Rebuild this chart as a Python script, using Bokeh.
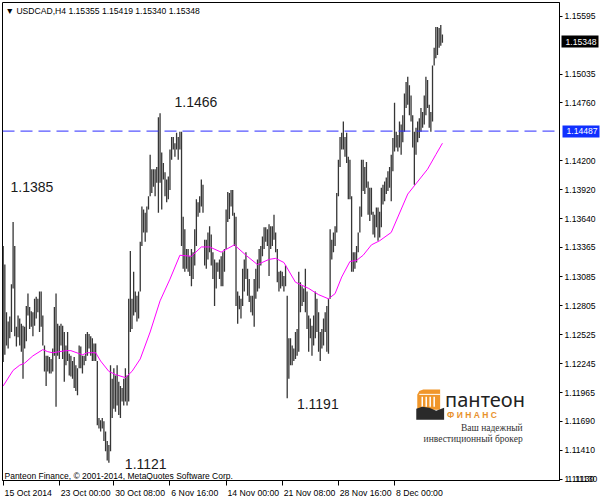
from bokeh.plotting import figure
from bokeh.models import (FixedTicker, PrintfTickFormatter, Label, Span, Range1d,
                          ColumnDataSource, LinearAxis, AllLabels)
from bokeh.embed import file_html
from bokeh.resources import INLINE

# ---------------- data ----------------
symbol = "USDCAD,H4"
last_ohlc = [1.15355, 1.15419, 1.15340, 1.15348]
level = 1.14487

highs = [
    1.1338, 1.1320, 1.1274, 1.1265, 1.1270, 1.1301, 1.1361, 1.1338, 1.1260, 1.1271,
    1.1268, 1.1263, 1.1261, 1.1260, 1.1280, 1.1292, 1.1279, 1.1275, 1.1274, 1.1287,
    1.1289, 1.1287, 1.1294, 1.1294, 1.1271, 1.1242, 1.1232, 1.1232, 1.1231, 1.1229,
    1.1239, 1.1279, 1.1292, 1.1263, 1.1261, 1.1263, 1.1261, 1.1255, 1.1242, 1.1255,
    1.1234, 1.1232, 1.1227, 1.1231, 1.1223, 1.1220, 1.1242, 1.1241, 1.1232, 1.1232,
    1.1253, 1.1255, 1.1253, 1.1251, 1.1249, 1.1244,
    1.1244, 1.1227, 1.1172, 1.1170, 1.1172, 1.1169, 1.1159, 1.1150, 1.1146, 1.1223,
    1.1210, 1.1220, 1.1213, 1.1223, 1.1207, 1.1203, 1.1201, 1.1210, 1.1220, 1.1213,
    1.1287, 1.1333, 1.1287, 1.1313, 1.1294, 1.1290, 1.1294, 1.1342, 1.1376, 1.1373,
    1.1370, 1.1376, 1.1386, 1.1426, 1.1412, 1.1412, 1.1412, 1.1414, 1.1462, 1.1466,
    1.1428, 1.1418, 1.1409, 1.1402, 1.1405, 1.1431, 1.1443, 1.1443, 1.1437, 1.1447,
    1.1443, 1.1448,
    1.1448, 1.1366, 1.1354, 1.1335, 1.1335, 1.1328, 1.1335, 1.1332, 1.1354, 1.1383,
    1.1380, 1.1386, 1.1402, 1.1397, 1.1344, 1.1344, 1.1351, 1.1357, 1.1349, 1.1332,
    1.1325, 1.1322, 1.1322, 1.1325, 1.1328, 1.1332, 1.1335, 1.1373, 1.1390, 1.1389,
    1.1392, 1.1392, 1.1370, 1.1366, 1.1294, 1.1290, 1.1287, 1.1316, 1.1325, 1.1332,
    1.1316, 1.1306, 1.1290, 1.1290, 1.1306, 1.1316, 1.1325, 1.1335, 1.1338, 1.1347,
    1.1356, 1.1356, 1.1354, 1.1359,
    1.1357, 1.1357, 1.1368, 1.1351, 1.1335, 1.1313, 1.1314, 1.1313, 1.1309, 1.1319,
    1.1290, 1.1249, 1.1249, 1.1242, 1.1239, 1.1255, 1.1258, 1.1313, 1.1303, 1.1299,
    1.1297, 1.1316, 1.1294, 1.1271, 1.1268, 1.1261, 1.1271, 1.1294, 1.1287, 1.1274,
    1.1255, 1.1258, 1.1268, 1.1274, 1.1280, 1.1287, 1.1354, 1.1344, 1.1351, 1.1357,
    1.1389, 1.1421, 1.1443, 1.1447, 1.1458, 1.1443, 1.1447, 1.1424, 1.1421, 1.1386,
    1.1332, 1.1332, 1.1338, 1.1351, 1.1376, 1.1421, 1.1421,
    1.1414, 1.1419, 1.1400, 1.1394, 1.1394, 1.1371, 1.1368, 1.1375, 1.1375, 1.1371,
    1.1394, 1.1397, 1.1400, 1.1404, 1.1410, 1.1414, 1.1426, 1.1442, 1.1476, 1.1448,
    1.1445, 1.1458, 1.1455, 1.1464, 1.1485, 1.1496, 1.1501, 1.1493, 1.1483, 1.1464,
    1.1448, 1.1452, 1.1458, 1.1461, 1.1471, 1.1467, 1.1483, 1.1501, 1.1498, 1.1474,
    1.1467, 1.1512, 1.1529, 1.1549, 1.1549, 1.1548, 1.1551, 1.15419,
]

lows = [
    1.1226, 1.1233, 1.1242, 1.1239, 1.1249, 1.1255, 1.1297, 1.1251, 1.1241, 1.1250,
    1.1242, 1.1236, 1.1210, 1.1239, 1.1246, 1.1271, 1.1258, 1.1260, 1.1251, 1.1261,
    1.1268, 1.1274, 1.1255, 1.1260, 1.1242, 1.1217, 1.1203, 1.1217, 1.1215, 1.1215,
    1.1217, 1.1232, 1.1183, 1.1232, 1.1229, 1.1242, 1.1229, 1.1207, 1.1223, 1.1227,
    1.1213, 1.1212, 1.1210, 1.1201, 1.1198, 1.1194, 1.1220, 1.1220, 1.1215, 1.1223,
    1.1227, 1.1232, 1.1239, 1.1232, 1.1227, 1.1227,
    1.1227, 1.1165, 1.1162, 1.1159, 1.1162, 1.1150, 1.1140, 1.1131, 1.1129, 1.1140,
    1.1172, 1.1181, 1.1178, 1.1184, 1.1175, 1.1172, 1.1188, 1.1184, 1.1188, 1.1184,
    1.1188, 1.1255, 1.1258, 1.1271, 1.1274, 1.1265, 1.1268, 1.1294, 1.1338, 1.1351,
    1.1342, 1.1351, 1.1373, 1.1386, 1.1389, 1.1395, 1.1386, 1.1399, 1.1370, 1.1399,
    1.1373, 1.1402, 1.1386, 1.1380, 1.1383, 1.1392, 1.1421, 1.1431, 1.1424, 1.1431,
    1.1421, 1.1431,
    1.1338, 1.1316, 1.1313, 1.1316, 1.1313, 1.1309, 1.1299, 1.1306, 1.1319, 1.1338,
    1.1366, 1.1370, 1.1376, 1.1370, 1.1319, 1.1316, 1.1325, 1.1332, 1.1319, 1.1306,
    1.1280, 1.1297, 1.1313, 1.1306, 1.1299, 1.1299, 1.1313, 1.1335, 1.1361, 1.1364,
    1.1376, 1.1367, 1.1338, 1.1280, 1.1263, 1.1277, 1.1268, 1.1280, 1.1294, 1.1306,
    1.1290, 1.1284, 1.1274, 1.1271, 1.1260, 1.1287, 1.1294, 1.1297, 1.1319, 1.1328,
    1.1335, 1.1342, 1.1338, 1.1309,
    1.1335, 1.1338, 1.1344, 1.1332, 1.1303, 1.1294, 1.1297, 1.1299, 1.1294, 1.1299,
    1.1191, 1.1210, 1.1223, 1.1223, 1.1227, 1.1229, 1.1232, 1.1236, 1.1274, 1.1280,
    1.1284, 1.1274, 1.1258, 1.1236, 1.1249, 1.1232, 1.1242, 1.1249, 1.1255, 1.1236,
    1.1227, 1.1239, 1.1242, 1.1255, 1.1236, 1.1234, 1.1287, 1.1325, 1.1332, 1.1338,
    1.1351, 1.1386, 1.1414, 1.1431, 1.1431, 1.1424, 1.1418, 1.1383, 1.1383, 1.1313,
    1.1313, 1.1316, 1.1322, 1.1332, 1.1351, 1.1366, 1.1391,
    1.1388, 1.1394, 1.1368, 1.1362, 1.1368, 1.1349, 1.1346, 1.1356, 1.1343, 1.1346,
    1.1356, 1.1378, 1.1381, 1.1388, 1.1391, 1.1394, 1.1381, 1.1410, 1.1429, 1.1433,
    1.1429, 1.1433, 1.1426, 1.1438, 1.1448, 1.1471, 1.1474, 1.1464, 1.1458, 1.1433,
    1.1397, 1.1426, 1.1438, 1.1442, 1.1448, 1.1452, 1.1455, 1.1464, 1.1471, 1.1452,
    1.1448, 1.1458, 1.1512, 1.1519, 1.1522, 1.1529, 1.1531, 1.15340,
]

# moving average (bar index, value)
ma_bars = [0, 6, 10, 13, 18, 24, 27, 30, 38, 41, 48, 51, 56, 59, 64, 68, 74, 78, 83, 89,
           95, 101, 107, 114, 120, 125, 132, 140, 147, 154, 161, 165, 170, 177, 185, 191,
           197, 201, 205, 210, 214, 218, 223, 228, 235, 245, 257, 262, 266]
ma_vals = [1.1203, 1.1218, 1.1223, 1.1225, 1.1232, 1.1238, 1.1236, 1.1235, 1.1237, 1.1237,
           1.1233, 1.1235, 1.1235, 1.1227, 1.1217, 1.1214, 1.1211, 1.1217, 1.1229, 1.1255,
           1.1285, 1.1306, 1.1329, 1.1328, 1.1337, 1.1337, 1.1332, 1.1339, 1.1329, 1.1320,
           1.1325, 1.1326, 1.1322, 1.1303, 1.1297, 1.1291, 1.1287, 1.1292, 1.1308, 1.1323,
           1.1324, 1.1329, 1.1339, 1.1343, 1.1351, 1.1388, 1.1412, 1.1426, 1.1437]

x_tick_bars = [0, 34, 67, 101, 135, 169, 203, 237]
x_tick_labels = ["15 Oct 2014", "23 Oct 00:00", "30 Oct 08:00", "6 Nov 16:00",
                 "14 Nov 00:00", "21 Nov 08:00", "28 Nov 16:00", "8 Dec 00:00"]
y_ticks = [1.15595, 1.15035, 1.14760, 1.14200, 1.13920, 1.13640, 1.13365, 1.13085,
           1.12805, 1.12525, 1.12245, 1.11965, 1.11690, 1.11410, 1.11130]

marks = ["1.1466", "1.1385", "1.1191", "1.1121"]

# ---------------- layout constants ----------------
W, H = 600, 500
BL, BT, BR, BB = 2, 2, 38, 18
X0, X1 = -0.42, 336.9
Y0, Y1 = 1.11118, 1.15727
FONT = "Liberation Sans"
px_per_bar = (W - BL - BR) / (X1 - X0)

CW = {" ": .278, ":": .278, ".": .278, ",": .278, "O": .778, "N": .722, "D": .722,
      "c": .5, "v": .5, "t": .278, "o": .556, "e": .556}

def est_w(s, size=9.0):
    return sum(CW.get(ch, .556) for ch in s) * size

# label centres so that each date label starts just right of its tick
label_pos = [round(b + (est_w(t, 8.7) / 2 + 1.5) / px_per_bar, 3)
             for b, t in zip(x_tick_bars, x_tick_labels)]

# ---------------- figure ----------------
n = min(len(highs), len(lows))
src = ColumnDataSource(dict(i=list(range(n)), high=highs[:n], low=lows[:n]))

p = figure(width=W, height=H, output_backend="svg", toolbar_location=None,
           x_range=Range1d(X0, X1), y_range=Range1d(Y0, Y1),
           y_axis_location="right",
           min_border_left=BL, min_border_top=BT, min_border_right=BR, min_border_bottom=BB,
           background_fill_color="white", border_fill_color="white",
           outline_line_color="black", outline_line_width=1)
p.grid.visible = False

# price scale
ya = p.yaxis[0]
ya.ticker = FixedTicker(ticks=y_ticks, minor_ticks=[])
ya.formatter = PrintfTickFormatter(format="%.5f")
ya.major_label_policy = AllLabels()
ya.major_tick_out = 3
ya.major_tick_in = 0
ya.minor_tick_out = 0
ya.minor_tick_in = 0
ya.major_label_standoff = 2
ya.major_label_text_font = FONT
ya.major_label_text_font_size = "8.6px"
ya.major_label_text_color = "black"
ya.axis_line_color = "black"

# date scale: tick marks are minor ticks, labels sit right of them
xa = p.xaxis[0]
xa.ticker = FixedTicker(ticks=label_pos, minor_ticks=x_tick_bars)
xa.major_label_overrides = {pos: t for pos, t in zip(label_pos, x_tick_labels)}
xa.major_label_policy = AllLabels()
xa.major_tick_out = 0
xa.major_tick_in = 0
xa.minor_tick_out = 5
xa.minor_tick_in = 0
xa.minor_tick_line_color = "black"
xa.major_label_standoff = 2
xa.major_label_text_font = FONT
xa.major_label_text_font_size = "8.7px"
xa.major_label_text_color = "black"
xa.axis_line_color = "black"

# boxed price labels (thick inward ticks of outer scales serve as box backgrounds),
# plus an outer scale repeating the bottom price label
for val, col, txt_col in [(last_ohlc[3], "black", "white"),
                          (level, "#1030ff", "white"),
                          (y_ticks[-1], None, "black")]:
    bx = LinearAxis(ticker=FixedTicker(ticks=[val], minor_ticks=[]),
                    formatter=PrintfTickFormatter(format="%.5f"))
    bx.major_label_policy = AllLabels()
    bx.axis_line_color = None
    bx.major_tick_in = 37 if col else 0
    bx.major_tick_out = 0
    bx.major_tick_line_width = 12
    bx.major_tick_line_color = col
    bx.minor_tick_in = 0
    bx.minor_tick_out = 0
    bx.major_label_standoff = -33
    bx.major_label_text_font = FONT
    bx.major_label_text_font_size = "8.6px"
    bx.major_label_text_color = txt_col
    p.add_layout(bx, "right")

# bars
p.segment(x0="i", y0="low", x1="i", y1="high", source=src,
          line_color="#363636", line_width=1.3)

# moving average
p.line(ma_bars, ma_vals, line_color="#ff00ff", line_width=1)

# horizontal level
p.add_layout(Span(location=level, dimension="width", line_color="#2a2aff",
                  line_dash="12 6", line_width=1))

# helpers for placing decorations relative to the reference layout (pixels)
def gx(X):
    return X0 + (X - BL) / px_per_bar

def gy(Y):
    return Y1 - (Y - BT) * (Y1 - Y0) / (H - BT - BB)

# header
hdr = "\u25BC " + symbol + "  " + " ".join(f"{v:.5f}" for v in last_ohlc)
p.add_layout(Label(x=gx(5), y=gy(11), text=hdr, text_font=FONT, text_font_size="8.6px",
                   text_color="black", text_baseline="middle", text_align="left"))

# copyright
p.add_layout(Label(x=gx(4), y=gy(477),
                   text="Panteon Finance, \u00a9 2001-2014, MetaQuotes Software Corp.",
                   text_font=FONT, text_font_size="8.5px", text_color="black",
                   text_baseline="middle", text_align="left"))

# price annotations
for txt, X, Y in zip(marks, [175, 10, 298, 125], [102, 187, 405, 465]):
    p.add_layout(Label(x=gx(X), y=gy(Y), text=txt, text_font=FONT, text_font_size="14px",
                       text_color="#1a1a1a", text_baseline="middle", text_align="left"))

# logo
ox = [419, 419, 421, 425, 442, 442]
oy = [411, 396, 392, 390.5, 390.5, 411]
p.patch([gx(v) for v in ox], [gy(v) for v in oy], fill_color="#F0962A", line_color=None)
for cx in [424, 428, 432, 436]:
    p.segment(x0=gx(cx), y0=gy(398), x1=gx(cx), y1=gy(408), line_color="white", line_width=1.5)
p.segment(x0=gx(421), y0=gy(395.5), x1=gx(442), y1=gy(395.5), line_color="white", line_width=1)
dx = [418, 418, 424, 431, 438, 446, 446]
dy = [421, 410, 408, 409, 412, 409, 421]
p.patch([gx(v) for v in dx], [gy(v) for v in dy], fill_color="#2a2a2a", line_color=None)

p.add_layout(Label(x=gx(447), y=gy(401), text="пантеон", text_font="Noto Sans",
                   text_font_size="20px", text_color="#222222", text_baseline="middle",
                   text_align="left"))
p.add_layout(Label(x=gx(449), y=gy(416), text="Ф   И   Н   А   Н   С", text_font=FONT,
                   text_font_size="8.5px", text_font_style="bold", text_color="#E8912C",
                   text_baseline="middle", text_align="left"))
p.add_layout(Label(x=gx(525), y=gy(429), text="Ваш надежный", text_font="Liberation Serif",
                   text_font_size="9.5px", text_color="#333333", text_baseline="middle",
                   text_align="right"))
p.add_layout(Label(x=gx(525), y=gy(440), text="инвестиционный брокер",
                   text_font="Liberation Serif", text_font_size="9.5px", text_color="#333333",
                   text_baseline="middle", text_align="right"))

open("out.html", "w").write(file_html(p, INLINE))
